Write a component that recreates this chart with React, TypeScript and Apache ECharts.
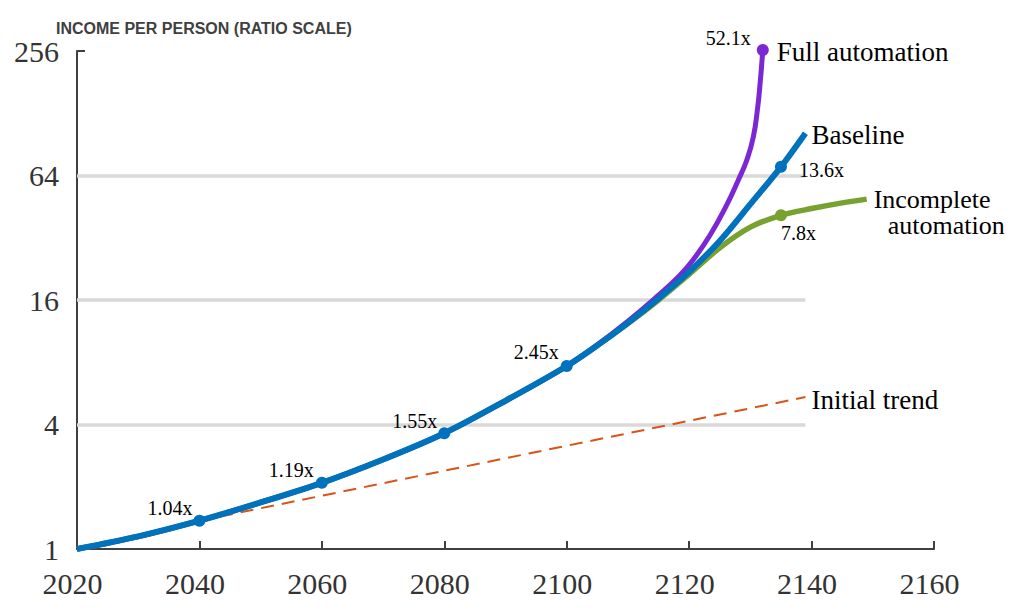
import React, { useEffect, useRef } from "react";
import * as echarts from "echarts";

// ---- data ----
const xTicks = [2020, 2040, 2060, 2080, 2100, 2120, 2140, 2160];
const yTicks = [1, 4, 16, 64, 256];
const gridValues = [4, 16, 64];
const gridEndYear = 2139;

const commonYears = [2020, 2030, 2040, 2050, 2060, 2070, 2080, 2090, 2100];
const commonValues = [1, 1.15, 1.37, 1.68, 2.09, 2.71, 3.63, 5.21, 7.67];

const baselineYears = [2105, 2110, 2115, 2120, 2125, 2130, 2135, 2139];
const baselineValues = [9.65, 12.4, 16.3, 21.9, 30.9, 46.5, 70.5, 102.5];

const fullYears = [2105, 2110, 2115, 2118.5, 2120.6, 2123.4, 2126, 2128.04, 2129.42, 2130.49, 2131.21, 2131.64, 2131.91, 2132.03];
const fullValues = [9.71, 12.64, 16.9, 21.1, 24.9, 32.9, 45.3, 60.9, 76.1, 98.6, 137.7, 185.3, 231.6, 258.9];

const incompleteYears = [2105, 2110, 2115, 2120, 2125, 2130, 2135, 2140, 2145, 2149];
const incompleteValues = [9.65, 12.3, 16, 21.3, 28.6, 36.0, 41.1, 44.3, 47.2, 49.2];

const trendYears = [2040, 2139];
const trendValues = [1.37, 5.43];

const baselineDotYears = [2040, 2060, 2080, 2100, 2135];
const baselineDotLabels = ["1.04x", "1.19x", "1.55x", "2.45x", "13.6x"];
const incompleteDotYear = 2135;
const incompleteDotLabel = "7.8x";
const fullDotYear = 2132.03;
const fullDotLabel = "52.1x";

const seriesNames = ["Baseline", "Full automation", "Incomplete automation", "Initial trend"];
const incompleteLines = ["Incomplete", "automation"];
const titleText = "INCOME PER PERSON (RATIO SCALE)";

// ---- styles ----
const BLUE = "#0072BD";
const PURPLE = "#7B27D3";
const GREEN = "#77A22F";
const ORANGE = "#D95319";
const AXIS = "#404040";
const SERIF = "'Liberation Serif', 'Times New Roman', serif";

const baselineDotLabelStyle: any[] = [
  { position: "left", offset: [-1, -13] },
  { position: "left", offset: [-2, -13] },
  { position: "left", offset: [-1, -12] },
  { position: "left", offset: [-2, -14] },
  { position: "right", offset: [12, 3] },
];

function pairs(xs: number[], ys: number[]) {
  return xs.map((x, i) => [x, ys[i]]);
}

export default function App() {
  const ref = useRef<HTMLDivElement>(null);

  useEffect(() => {
    if (!ref.current) return;
    const chart = echarts.init(ref.current, undefined, { renderer: "svg" });

    const common = pairs(commonYears, commonValues);
    const baseline = common.concat(pairs(baselineYears, baselineValues));
    const full = common.concat(pairs(fullYears, fullValues));
    const incomplete = common.concat(pairs(incompleteYears, incompleteValues));
    const trend = pairs(trendYears, trendValues);

    const findVal = (data: number[][], yr: number) => {
      const p = data.find((d) => d[0] === yr);
      return p ? p[1] : NaN;
    };

    const dotLabelBase = {
      show: true,
      distance: 0,
      fontFamily: SERIF,
      fontSize: 20,
      color: "#000",
    };

    const endLabelBase = {
      show: true,
      fontFamily: SERIF,
      fontSize: 27,
      color: "#000",
      distance: 6,
    };

    const option: any = {
      animation: false,
      backgroundColor: "#fff",
      graphic: [
        {
          type: "text",
          x: 56,
          y: 20,
          silent: true,
          style: {
            text: titleText,
            font: "bold 16px 'Liberation Sans', Arial, sans-serif",
            fill: "#404040",
            textAlign: "left",
            textVerticalAlign: "top",
          },
        },
      ],
      grid: { left: 77, right: 86, top: 51, bottom: 67, containLabel: false },
      xAxis: {
        type: "value",
        min: xTicks[0],
        max: xTicks[xTicks.length - 1],
        interval: 20,
        axisLine: { show: true, lineStyle: { color: AXIS, width: 2 } },
        axisTick: { show: true, inside: true, length: 8, lineStyle: { color: AXIS, width: 2 } },
        axisLabel: {
          fontFamily: SERIF,
          fontSize: 30,
          color: "#333",
          margin: 19,
          padding: [0, 9, 0, 0],
          formatter: (v: number) => String(v),
        },
        splitLine: { show: false },
      },
      yAxis: {
        type: "log",
        logBase: 4,
        min: yTicks[0],
        max: yTicks[yTicks.length - 1],
        axisLine: { show: true, lineStyle: { color: AXIS, width: 2 } },
        axisTick: { show: true, inside: true, length: 8, lineStyle: { color: AXIS, width: 2 } },
        axisLabel: {
          fontFamily: SERIF,
          fontSize: 30,
          color: "#333",
          margin: 18,
          formatter: (v: number) => String(Math.round(v)),
        },
        splitLine: { show: false },
      },
      series: [
        {
          name: "grid",
          type: "line",
          data: [],
          silent: true,
          markLine: {
            silent: true,
            z: 1,
            symbol: ["none", "none"],
            label: { show: false },
            lineStyle: { color: "#d9d9d9", width: 3.5, type: "solid" },
            data: gridValues.map((g) => [
              { coord: [xTicks[0], g] },
              { coord: [gridEndYear, g] },
            ]),
          },
        },
        {
          name: seriesNames[3],
          type: "line",
          data: trend,
          showSymbol: false,
          z: 2,
          lineStyle: { color: ORANGE, width: 2, type: [13, 8] },
          endLabel: { ...endLabelBase, formatter: seriesNames[3], offset: [0, 3] },
        },
        {
          name: seriesNames[2],
          type: "line",
          data: incomplete,
          showSymbol: false,
          smooth: 0.3,
          z: 3,
          clip: false,
          lineStyle: { color: GREEN, width: 5.5 },
          endLabel: {
            show: true,
            distance: 7,
            offset: [0, 13],
            formatter: `{a|${incompleteLines[0]}}\n{b|${incompleteLines[1]}}`,
            rich: {
              a: { fontFamily: SERIF, fontSize: 26, color: "#000", lineHeight: 26 },
              b: { fontFamily: SERIF, fontSize: 26, color: "#000", lineHeight: 26, padding: [0, 0, 0, 14] },
            },
          },
        },
        {
          name: seriesNames[1],
          type: "line",
          data: full,
          showSymbol: false,
          smooth: 0.5,
          z: 4,
          clip: false,
          lineStyle: { color: PURPLE, width: 5 },
          endLabel: { ...endLabelBase, distance: 14, formatter: seriesNames[1], offset: [0, 2] },
        },
        {
          name: seriesNames[0],
          type: "line",
          data: baseline,
          showSymbol: false,
          smooth: 0.3,
          z: 5,
          clip: false,
          lineStyle: { color: BLUE, width: 6 },
          endLabel: { ...endLabelBase, formatter: seriesNames[0], offset: [0, 2] },
        },
        {
          name: "baselineDots",
          type: "scatter",
          z: 6,
          symbolSize: 12,
          itemStyle: { color: BLUE, opacity: 1 },
          data: baselineDotYears.map((yr, i) => ({
            value: [yr, findVal(baseline, yr)],
            label: { ...dotLabelBase, ...baselineDotLabelStyle[i], formatter: baselineDotLabels[i] },
          })),
        },
        {
          name: "incompleteDot",
          type: "scatter",
          z: 6,
          symbolSize: 12,
          itemStyle: { color: GREEN, opacity: 1 },
          data: [
            {
              value: [incompleteDotYear, findVal(incomplete, incompleteDotYear)],
              label: { ...dotLabelBase, position: "right", offset: [-6, 18], formatter: incompleteDotLabel },
            },
          ],
        },
        {
          name: "fullDot",
          type: "scatter",
          z: 6,
          symbolSize: 12,
          clip: false,
          itemStyle: { color: PURPLE, opacity: 1 },
          data: [
            {
              value: [fullDotYear, findVal(full, fullDotYear)],
              label: { ...dotLabelBase, position: "left", offset: [-6, -12], formatter: fullDotLabel },
            },
          ],
        },
      ],
    };

    chart.setOption(option);
    return () => chart.dispose();
  }, []);

  return (
    <div
      ref={ref}
      style={{ position: "fixed", left: 0, top: 0, width: 1020, height: 616, background: "#fff" }}
    />
  );
}
